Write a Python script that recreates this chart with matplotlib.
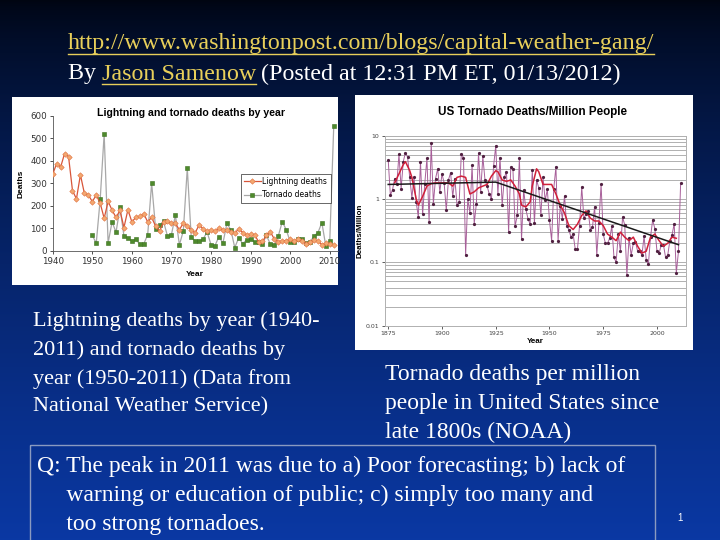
import numpy as np
import matplotlib
matplotlib.use('Agg')
import matplotlib.pyplot as plt
from matplotlib.patches import Rectangle
from matplotlib.lines import Line2D

# ---- left chart data (NWS) ----
lightning_years = list(range(1940, 2012))
lightning_deaths = [340, 388, 372, 432, 419, 268, 231, 338, 256, 249,
                    219, 248, 212, 145, 220, 181, 149, 180, 104, 183,
                    129, 149, 153, 165, 129, 149, 110, 88, 129, 131,
                    122, 122, 94, 124, 112, 91, 81, 116, 98, 87,
                    94, 87, 100, 93, 91, 85, 78, 99, 82, 72,
                    74, 73, 41, 43, 69, 85, 52, 42, 44, 46,
                    51, 44, 51, 44, 32, 38, 48, 45, 28, 34,
                    29, 26]
tornado_years = list(range(1950, 2012))
tornado_deaths = [70, 34, 230, 519, 36, 129, 83, 193, 67, 58,
                  46, 52, 30, 31, 73, 301, 98, 114, 131, 66,
                  73, 159, 27, 89, 366, 60, 44, 43, 53, 84,
                  28, 24, 64, 34, 122, 94, 15, 59, 32, 50,
                  53, 39, 39, 33, 69, 30, 25, 67, 130, 94,
                  41, 40, 55, 54, 35, 38, 67, 81, 126, 21,
                  45, 553]

# ---- right chart data (NOAA, deaths per million) ----
rate_years = list(range(1875, 2012))
rate_values = [4.1, 1.15, 1.4, 2.1, 1.75, 5.1, 1.45, 3.9, 5.4, 4.6,
               2.2, 1.05, 2.2, 0.9, 0.52, 3.9, 0.57, 1.75, 4.4, 0.44,
               7.6, 0.85, 2.1, 3.0, 1.3, 2.5, 1.8, 0.67, 2.0, 2.6,
               1.1, 2.1, 0.8, 0.9, 5.2, 4.5, 0.13, 1.0, 0.6, 3.4,
               0.41, 0.85, 5.3, 1.3, 4.7, 2.0, 1.6, 1.2, 1.0, 3.3,
               6.9, 1.2, 4.5, 0.8, 2.2, 2.7, 0.3, 3.2, 3.0, 0.37,
               0.55, 4.4, 0.23, 1.4, 0.69, 0.49, 0.4, 2.9, 0.42, 2.0,
               1.5, 0.55, 2.2, 0.95, 1.42, 0.46, 0.22, 1.46, 3.24, 0.22,
               0.78, 0.49, 1.12, 0.38, 0.33, 0.25, 0.28, 0.16, 0.16, 0.38,
               1.55, 0.50, 0.57, 0.65, 0.33, 0.36, 0.76, 0.13, 0.42, 1.71,
               0.28, 0.20, 0.20, 0.24, 0.37, 0.12, 0.10, 0.28, 0.15, 0.52,
               0.39, 0.063, 0.24, 0.13, 0.20, 0.21, 0.15, 0.15, 0.13, 0.26,
               0.11, 0.093, 0.25, 0.47, 0.34, 0.15, 0.14, 0.19, 0.19, 0.12,
               0.13, 0.22, 0.27, 0.41, 0.068, 0.15, 1.77]
smooth_years = [1878, 1880, 1882, 1883, 1885, 1886, 1888, 1889, 1891, 1893,
                1895, 1897, 1900, 1903, 1905, 1907, 1909, 1911, 1913, 1915,
                1917, 1919, 1921, 1923, 1925, 1926, 1928, 1930, 1932, 1934,
                1936, 1937, 1939, 1941, 1942, 1944, 1945, 1947, 1949, 1951,
                1953, 1955, 1957, 1959, 1961, 1963, 1965, 1967, 1969, 1971,
                1973, 1975, 1977, 1979, 1981, 1983, 1985, 1987, 1989, 1991,
                1993, 1995, 1997, 1999, 2001, 2003, 2005, 2007, 2009]
smooth_values = [1.8, 2.5, 3.5, 3.9, 2.8, 2.2, 1.0, 0.8, 1.1, 1.6,
                 1.75, 1.8, 1.8, 1.8, 1.6, 2.2, 2.3, 2.2, 1.2, 1.3,
                 1.5, 1.6, 1.7, 2.3, 2.8, 2.7, 2.0, 1.9, 2.0, 1.6,
                 1.2, 0.8, 0.75, 0.9, 1.6, 3.0, 2.7, 1.7, 1.7, 1.7,
                 1.2, 0.8, 0.6, 0.38, 0.33, 0.4, 0.55, 0.65, 0.5, 0.45,
                 0.45, 0.38, 0.28, 0.25, 0.22, 0.3, 0.25, 0.22, 0.25, 0.18,
                 0.14, 0.15, 0.25, 0.28, 0.22, 0.18, 0.2, 0.25, 0.24]
trend_years = [1875, 1925, 2010]
trend_values = [1.7, 1.85, 0.19]

W, H = 720, 540
fig = plt.figure(figsize=(7.2, 5.4), dpi=100)


def fx(px):
    return px / W


def fy(py):
    return 1 - py / H


# background gradient
bg = fig.add_axes([0, 0, 1, 1], zorder=-10)
bg.set_xlim(0, W)
bg.set_ylim(H, 0)
bg.axis('off')
t = np.linspace(0, 1, 256) ** 0.7
top = np.array([0.0, 0.02, 0.07])
bot = np.array([0.04, 0.22, 0.64])
grad = top[None, :] * (1 - t[:, None]) + bot[None, :] * t[:, None]
bg.imshow(grad[:, None, :], extent=[0, W, H, 0], aspect='auto')
bg.add_patch(Rectangle((12, 97), 326, 188, facecolor='white', edgecolor='none'))
bg.add_patch(Rectangle((355, 95), 338, 255, facecolor='white', edgecolor='none'))
bg.add_patch(Rectangle((30, 445), 625, 110, facecolor='none', edgecolor='#8a9ac0', lw=1))

serif = 'Liberation Serif'
fs = 17
yellow = '#e8cf5a'

# header
url = fig.text(fx(68), fy(44), 'http://www.washingtonpost.com/blogs/capital-weather-gang/',
               family=serif, fontsize=17.3, color=yellow, va='center')
by = fig.text(fx(68), fy(74), 'By ', family=serif, fontsize=17.3, color='white', va='center')
fig.canvas.draw()
r = fig.canvas.get_renderer()
bb = by.get_window_extent(r)
name = fig.text(bb.x1 / W, fy(74), 'Jason Samenow', family=serif, fontsize=17.3,
                color=yellow, va='center')
bb2 = name.get_window_extent(r)
rest = fig.text(bb2.x1 / W + 0.006, fy(74), '(Posted at 12:31 PM ET, 01/13/2012)',
                family=serif, fontsize=17.3, color='white', va='center')
for tx in (url, name):
    b = tx.get_window_extent(r)
    fig.add_artist(Line2D([b.x0 / W, b.x1 / W], [(b.y0 + 1) / H, (b.y0 + 1) / H],
                          color=yellow, lw=1))

fig.text(fx(33), fy(311), 'Lightning deaths by year (1940-\n2011) and tornado deaths by\n'
         'year (1950-2011) (Data from\nNational Weather Service)',
         family=serif, fontsize=16, color='white', va='top', linespacing=1.62)
fig.text(fx(385), fy(364), 'Tornado deaths per million\npeople in United States since\n'
         'late 1800s (NOAA)',
         family=serif, fontsize=fs, color='white', va='top', linespacing=1.5)
fig.text(fx(37), fy(456), 'Q: The peak in 2011 was due to a) Poor forecasting; b) lack of\n'
         '     warning or education of public; c) simply too many and\n'
         '     too strong tornadoes.',
         family=serif, fontsize=fs, color='white', va='top', linespacing=1.47)
fig.text(fx(677), fy(518), '1', family='Liberation Sans', fontsize=7, color='white', va='center')

sans = 'Liberation Sans'

# ---- left chart ----
ax1 = fig.add_axes([fx(52.7), fy(251), fx(285), 135.3 / H])
ax1.plot(tornado_years, tornado_deaths, color='#a8a8a8', lw=0.9, marker='s', ms=3.2,
         mfc='#4e8a2c', mec='#3c7020', mew=0.4, label='Tornado deaths', zorder=2)
ax1.plot(lightning_years, lightning_deaths, color='#d8563a', lw=0.9, marker='D', ms=2.8,
         mfc='#f3a870', mec='#e07040', mew=0.4, label='Lightning deaths', zorder=3)
ax1.set_xlim(1940, 2012)
ax1.set_ylim(0, 600)
ax1.set_xticks(range(1940, 2011, 10))
ax1.set_yticks(range(0, 601, 100))
ax1.tick_params(labelsize=6.3, length=2, width=0.6, colors='#333333', pad=2)
for s in ('top', 'right'):
    ax1.spines[s].set_visible(False)
for s in ('left', 'bottom'):
    ax1.spines[s].set_linewidth(0.6)
    ax1.spines[s].set_color('#555555')
fig.text(fx(191), fy(113), 'Lightning and tornado deaths by year', fontsize=7.6,
         fontweight='bold', family=sans, ha='center', va='center')
ax1.set_xlabel('Year', fontsize=6, fontweight='bold', family=sans, labelpad=4)
ax1.set_ylabel('Deaths', fontsize=6, fontweight='bold', family=sans, labelpad=4)
h, l = ax1.get_legend_handles_labels()
leg = ax1.legend(h[::-1], l[::-1], loc='upper left', bbox_to_anchor=(0.646, 0.6),
                 fontsize=5.5, frameon=True, fancybox=False, handlelength=2.2,
                 borderpad=0.45, labelspacing=0.55, handletextpad=0.2)
leg.get_frame().set_edgecolor('#222222')
leg.get_frame().set_linewidth(0.6)

# ---- right chart ----
ax2 = fig.add_axes([fx(385), fy(325.7), fx(301), 190 / H])
ax2.set_yscale('log')
ax2.set_ylim(0.01, 10)
ax2.set_xlim(1873.5, 2013.5)
for dec in (0.01, 0.1, 1):
    for k in range(1, 10):
        ax2.axhline(dec * k, color='#b0b0b0', lw=0.7, zorder=0)
ax2.axhline(10, color='#b0b0b0', lw=0.7, zorder=0)
ax2.plot(rate_years, rate_values, color='#a8609a', lw=0.7, marker='o', ms=1.3,
         mfc='#502040', mec='#502040', zorder=2)
ax2.plot(smooth_years, smooth_values, color='#d0203a', lw=1.1, zorder=3)
ax2.plot(trend_years, trend_values, color='#1a1a1a', lw=1.1, zorder=4)
ax2.set_yticks([0.01, 0.1, 1, 10])
ax2.set_yticklabels(['0.01', '0.1', '1', '10'])
ax2.yaxis.set_minor_locator(matplotlib.ticker.NullLocator())
ax2.set_xticks(range(1875, 2001, 25))
ax2.tick_params(labelsize=4.5, length=2, width=0.6, colors='#444444', pad=2)
for s in ax2.spines.values():
    s.set_color('#b0b0b0')
    s.set_linewidth(0.7)
fig.text(fx(532), fy(112), 'US Tornado Deaths/Million People', fontsize=8.4,
         fontweight='bold', family=sans, ha='center', va='center')
ax2.set_xlabel('Year', fontsize=5.8, fontweight='bold', family=sans, labelpad=1.5)
ax2.set_ylabel('Deaths/Million', fontsize=5.8, fontweight='bold', family=sans, labelpad=1.5)

fig.savefig('out.png', dpi=100)
